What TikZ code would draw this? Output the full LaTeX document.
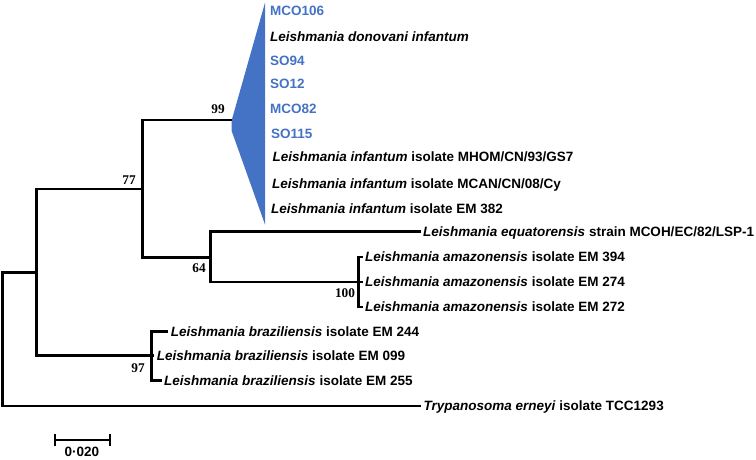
\documentclass[tikz,border=0pt]{standalone}
\usepackage{fontspec}
\setmainfont{Liberation Sans}
\newfontfamily\numfont{Liberation Serif}
\definecolor{cladeblue}{HTML}{4472C4}
\begin{document}
\begin{tikzpicture}[x=1pt,y=-1pt,
  branch/.style={line width=2.7pt, line join=miter},
  lab/.style={anchor=west, font=\fontsize{13.5}{15}\selectfont\bfseries, inner xsep=2.5pt, inner ysep=0pt, text height=9.7pt, text depth=0pt},
  blab/.style={lab, text=cladeblue},
  boot/.style={font=\numfont\fontsize{13.3}{15}\selectfont\bfseries, inner sep=0pt, text height=9pt, text depth=0pt}]
\useasboundingbox (0,0) rectangle (756,459);
% internal nodes
\coordinate (R) at (2.7,273);
\coordinate (A) at (36.5,272.5);
\coordinate (B) at (142.7,189);
\coordinate (C) at (231.5,120);
\coordinate (D) at (210.7,257.5);
\coordinate (E) at (358.3,282);
\coordinate (F) at (151.7,355.5);
% collapsed clade
\fill[cladeblue] (265,2.7) -- (231.5,121) -- (231.5,130.5) -- (265,224.5) -- cycle;
% labels
\node[blab] (l1) at (267.5,11) {MCO106};
\node[lab]  (l2) at (267.5,36.5) {\itshape Leishmania donovani infantum};
\node[blab] (l3) at (267.5,60.5) {SO94};
\node[blab] (l4) at (267.5,83.3) {SO12};
\node[blab] (l5) at (267.5,108.7) {MCO82};
\node[blab] (l6) at (268.5,134) {SO115};
\node[lab]  (l7) at (270,156.7) {\textit{Leishmania infantum} isolate MHOM/CN/93/GS7};
\node[lab]  (l8) at (269.5,183.3) {\textit{Leishmania infantum} isolate MCAN/CN/08/Cy};
\node[lab]  (l9) at (268.5,208.3) {\textit{Leishmania infantum} isolate EM 382};
\node[lab]  (eq) at (420.5,231.5) {\textit{Leishmania equatorensis} strain MCOH/EC/82/LSP-1};
\node[lab]  (am1) at (362.5,257) {\textit{Leishmania amazonensis} isolate EM 394};
\node[lab]  (am2) at (362.5,282) {\textit{Leishmania amazonensis} isolate EM 274};
\node[lab]  (am3) at (362.5,307) {\textit{Leishmania amazonensis} isolate EM 272};
\node[lab]  (br1) at (168.2,331.7) {\textit{Leishmania braziliensis} isolate EM 244};
\node[lab]  (br2) at (154.2,355.5) {\textit{Leishmania braziliensis} isolate EM 099};
\node[lab]  (br3) at (161.5,380.5) {\textit{Leishmania braziliensis} isolate EM 255};
\node[lab]  (tr) at (421,406) {\textit{Trypanosoma erneyi} isolate TCC1293};
% branches
\draw[branch] (A) -| (R);
\draw[branch] (tr.west) -| (R);
\draw[branch] (B) -| (A);
\draw[branch] (F) -| (A);
\draw[branch] (C) -| (B);
\draw[branch] (D) -| (B);
\draw[branch] (eq.west) -| (D);
\draw[branch] (E) -| (D);
\draw[branch] (am1.west) -| (E);
\draw[branch] (am2.west) -| (E);
\draw[branch] (am3.west) -| (E);
\draw[branch] (br1.west) -| (F);
\draw[branch] (br2.west) -| (F);
\draw[branch] (br3.west) -| (F);
% bootstrap values
\node[boot] (b99) at (218,109) {99};
\node[boot] (b77) at (129,180) {77};
\node[boot] (b64) at (199,268) {64};
\node[boot] (b100) at (345,293) {100};
\node[boot] (b97) at (138,368) {97};
% scale bar
\coordinate (s1) at (55,440);
\coordinate (s2) at (110,440);
\draw[line width=2.5pt] (s1) -- (s2);
\draw[line width=2.3pt] ([yshift=-6pt]s1) -- ([yshift=6pt]s1);
\draw[line width=2.3pt] ([yshift=-6pt]s2) -- ([yshift=6pt]s2);
\node[lab, anchor=center] (sl) at (82,452) {0·020};
\end{tikzpicture}
\end{document}
